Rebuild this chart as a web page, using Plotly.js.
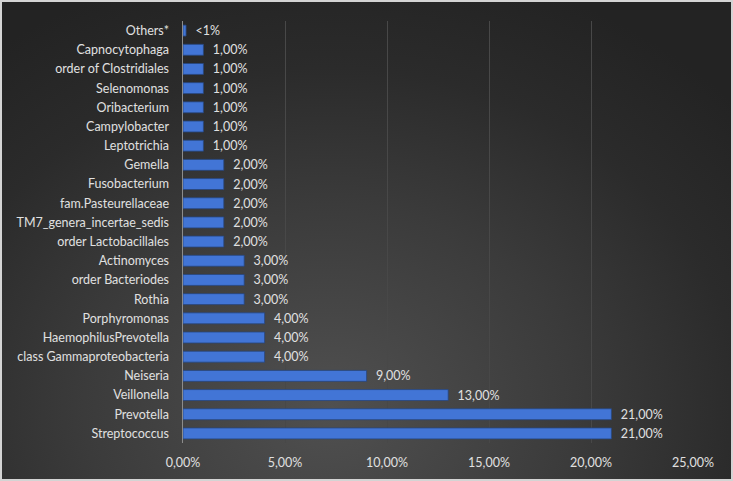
<!DOCTYPE html>
<html>
<head>
<meta charset="utf-8">
<script src="https://cdn.plot.ly/plotly-3.0.1.min.js"></script>
<style>
  html, body { margin: 0; padding: 0; background: #d4d4d4; width: 733px; height: 481px; overflow: hidden; }
  #chart { position: absolute; left: 2px; top: 2px; width: 729px; height: 477px;
    background: radial-gradient(ellipse 75% 95% at 45% 85%, #505050 0%, #3b3b3b 45%, #2b2b2b 75%, #232323 100%); }
</style>
</head>
<body>
<div id="chart"></div>
<script>
const categories = ["Streptococcus","Prevotella","Veillonella","Neiseria","class Gammaproteobacteria","HaemophilusPrevotella","Porphyromonas","Rothia","order Bacteriodes","Actinomyces","order Lactobacillales","TM7_genera_incertae_sedis","fam.Pasteurellaceae","Fusobacterium","Gemella","Leptotrichia","Campylobacter","Oribacterium","Selenomonas","order of Clostridiales","Capnocytophaga","Others*"];
const values = [21,21,13,9,4,4,4,3,3,3,2,2,2,2,2,1,1,1,1,1,1,0.15];
const valueLabels = ["21,00%","21,00%","13,00%","9,00%","4,00%","4,00%","4,00%","3,00%","3,00%","3,00%","2,00%","2,00%","2,00%","2,00%","2,00%","1,00%","1,00%","1,00%","1,00%","1,00%","1,00%","<1%"];
const xTickVals = [0,5,10,15,20,25];
const xTickText = ["0,00%","5,00%","10,00%","15,00%","20,00%","25,00%"];

const fontFam = "Lato, 'Open Sans', sans-serif";
Plotly.newPlot('chart', [{
  type: 'bar',
  orientation: 'h',
  y: categories,
  x: values,
  text: valueLabels.map(t => '  ' + t),
  textposition: 'outside',
  constraintext: 'none',
  cliponaxis: false,
  textfont: {color: '#e0e0e0', size: 12.5, family: fontFam},
  marker: {color: '#4275d6', line: {color: '#27467f', width: 0.8}},
  width: 0.57,
  hoverinfo: 'none'
}], {
  width: 729, height: 477,
  margin: {l: 181, r: 38, t: 18.5, b: 35.5},
  paper_bgcolor: 'rgba(0,0,0,0)',
  plot_bgcolor: 'rgba(0,0,0,0)',
  showlegend: false,
  font: {family: fontFam, color: '#e0e0e0', size: 12.5},
  xaxis: {
    range: [0, 25],
    tickvals: xTickVals, ticktext: xTickText,
    showgrid: true, gridcolor: '#484848', gridwidth: 1,
    zeroline: false, showline: false,
    ticks: 'outside', ticklen: 8, tickcolor: 'rgba(0,0,0,0)',
    tickfont: {color: '#e0e0e0', size: 12.5, family: fontFam},
    fixedrange: true
  },
  yaxis: {
    type: 'category',
    categoryorder: 'array', categoryarray: categories,
    range: [-0.5, 21.5],
    showgrid: false, zeroline: false,
    showline: true, linecolor: '#8c8c8c', linewidth: 1.5,
    ticks: 'outside', ticklen: 10, tickcolor: 'rgba(0,0,0,0)',
    tickfont: {color: '#e0e0e0', size: 12.5, family: fontFam},
    fixedrange: true
  }
}, {displayModeBar: false, staticPlot: true});
</script>
</body>
</html>
